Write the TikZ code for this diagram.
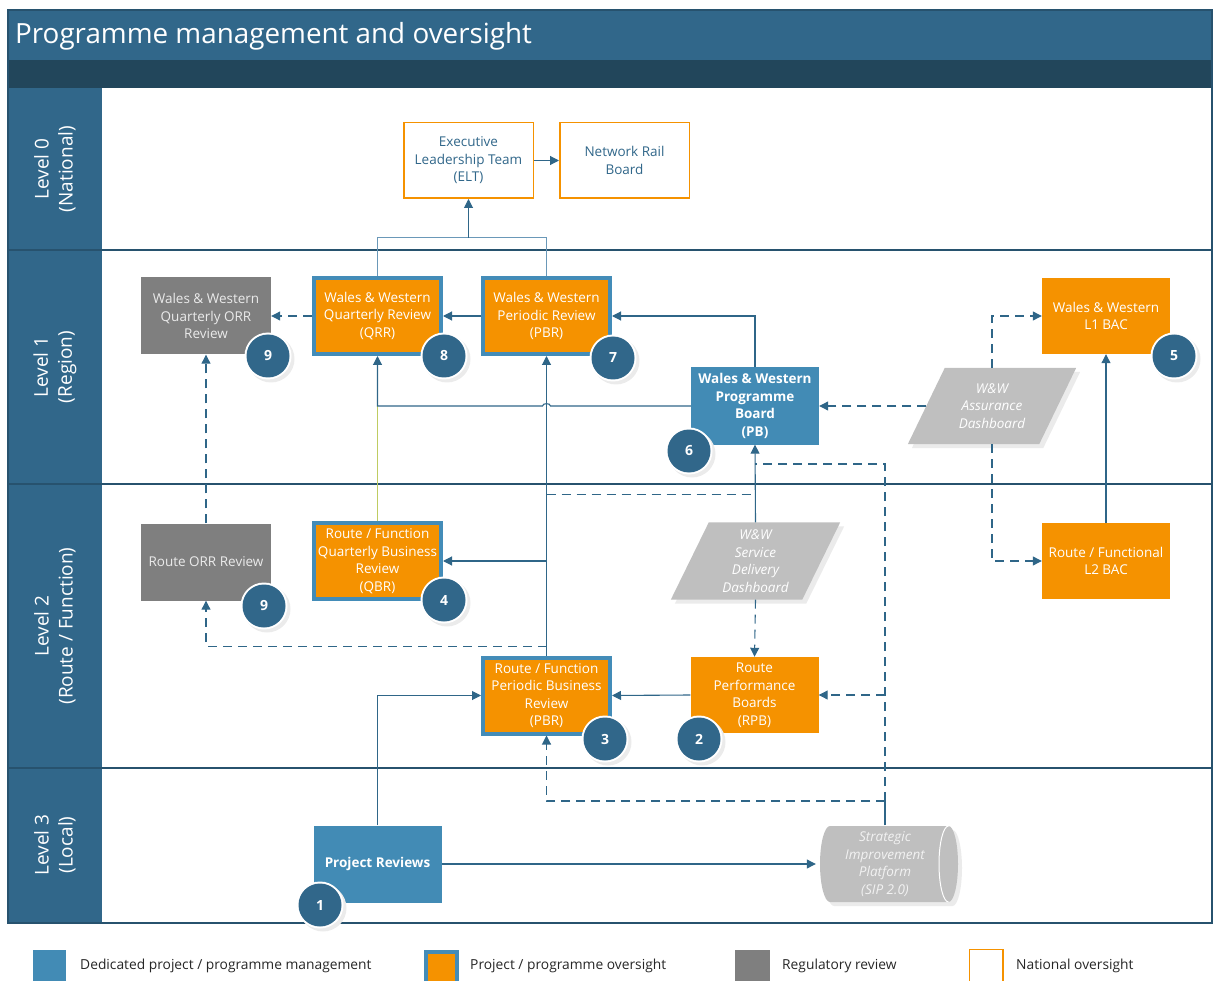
\documentclass[tikz,border=0pt]{standalone}
\usepackage{fontspec}
\setmainfont{Open Sans}
\usetikzlibrary{arrows.meta,calc}
\pgfdeclarelayer{background}
\pgfsetlayers{background,main}

\definecolor{hdr}{HTML}{31678A}
\definecolor{band}{HTML}{22465B}
\definecolor{ln}{HTML}{2F6688}
\definecolor{lnl}{HTML}{6A98B8}
\definecolor{org}{HTML}{F59200}
\definecolor{bord}{HTML}{438CB8}
\definecolor{pmb}{HTML}{428BB5}
\definecolor{reg}{HTML}{7F7F7F}
\definecolor{regtxt}{HTML}{EAEAEA}
\definecolor{dbg}{HTML}{BFBFBF}
\definecolor{qline}{HTML}{BFCC62}
\definecolor{shd}{HTML}{EBEBEB}

\tikzset{
  txt/.style={font=\fontsize{13.5}{17.5}\selectfont, align=center, inner sep=0pt},
  natbox/.style={txt, draw=org, line width=1.5pt, fill=white, text=hdr,
    minimum width=129.5pt, minimum height=75.5pt},
  ovbox/.style={txt, draw=bord, line width=4pt, fill=org, text=white,
    minimum width=127pt, minimum height=76pt},
  orgbox/.style={txt, fill=org, text=white, minimum width=128pt, minimum height=76pt},
  regbox/.style={txt, fill=reg, text=regtxt, minimum width=130pt, minimum height=77pt},
  pmbox/.style={txt, fill=pmb, text=white, font=\fontsize{13.5}{17.5}\selectfont\bfseries,
    minimum width=128pt, minimum height=77pt},
  dbtxt/.style={txt, text=white, font=\fontsize{13.5}{17.5}\selectfont\itshape},
  conn/.style={draw=ln, line width=1.1pt},
  thinconn/.style={draw=lnl, line width=1pt},
  arr/.style={conn, -{Triangle[length=9pt,width=9pt]}},
  dline/.style={conn, dash pattern=on 9pt off 6pt},
  darr/.style={arr, dash pattern=on 9pt off 6pt},
  lanelbl/.style={rotate=90, text=white, align=center, inner sep=0pt,
    font=\fontsize{19}{24}\selectfont},
  badgenode/.style={circle, fill=hdr, minimum size=43pt, inner sep=0pt, text=white,
    font=\fontsize{14}{14}\selectfont\bfseries},
  legtxt/.style={anchor=west, inner sep=0pt, font=\fontsize{13.8}{16}\selectfont, text=black!85},
}

% numbered badge: name, position, number
\newcommand\numbadge[3]{%
  \fill[shd] ($(#2)+(3,3)$) circle[radius=23.5pt];
  \fill[white] (#2) circle[radius=23.5pt];
  \node[badgenode] (#1) at (#2) {#3};
}

\begin{document}
\begin{tikzpicture}[x=1pt,y=-1pt]
\useasboundingbox (0,0) rectangle (1218,981);

% title, band and lane headers
\fill[hdr] (8,10) rectangle (1212,60);
\fill[band] (8,60) rectangle (1212,88);
\fill[hdr] (8,88) rectangle (102,923);
\draw[hdr!80!black, line width=1.5pt] (8,10) rectangle (1212,923);
\foreach \y in {250,484,768} \draw[hdr!80!black, line width=1.5pt] (8,\y) -- (1212,\y);
\node[anchor=west, text=white, inner sep=0pt, font=\fontsize{27.8}{30}\selectfont] (title) at (15,36) {Programme management and oversight};

\node[lanelbl] (lv0) at (55,169) {Level 0\\(National)};
\node[lanelbl] (lv1) at (55,367) {Level 1\\(Region)};
\node[lanelbl] (lv2) at (55,626) {Level 2\\(Route / Function)};
\node[lanelbl] (lv3) at (55,845) {Level 3\\(Local)};

% Level 0
\node[natbox] (elt) at (468.5,160.5) {Executive\\Leadership Team\\(ELT)};
\node[natbox] (nrb) at (624.5,160.5) {Network Rail\\Board};

% Level 1
\node[regbox] (qorr) at (206,316) {Wales \& Western\\Quarterly ORR\\Review};
\node[ovbox] (qrr) at (377.5,316) {Wales \& Western\\Quarterly Review\\(QRR)};
\node[ovbox] (wpbr) at (546.5,316) {Wales \& Western\\Periodic Review\\(PBR)};
\node[pmbox] (pb) at (755,406) {Wales \& Western\\Programme\\Board\\(PB)};
\node[dbtxt, minimum width=168pt, minimum height=76pt] (assur) at (992,406) {W\&W\\Assurance\\Dashboard};
\node[orgbox] (l1bac) at (1106,316) {Wales \& Western\\L1 BAC};

% Level 2
\node[regbox] (rorr) at (206,562) {Route ORR Review};
\node[ovbox] (qbr) at (377.5,561) {Route / Function\\Quarterly Business\\Review\\(QBR)};
\node[dbtxt, minimum width=169pt, minimum height=77pt] (sdd) at (755.5,561) {W\&W\\Service\\Delivery\\Dashboard};
\node[orgbox] (l2bac) at (1106,561) {Route / Functional\\L2 BAC};
\node[ovbox] (rfpbr) at (546.5,695.5) {Route / Function\\Periodic Business\\Review\\(PBR)};
\node[orgbox] (rpb) at (754.5,695) {Route\\Performance\\Boards\\(RPB)};

% Level 3
\node[pmbox] (pr) at (377.5,864) {Project Reviews};
\node[dbtxt, minimum width=138pt, minimum height=77pt, text=white!95!black] (sip) at (885,864) {Strategic\\Improvement\\Platform\\(SIP 2.0)};

% dashboard and platform shapes
\begin{pgfonlayer}{background}
  \foreach \n/\s in {assur/37,sdd/38}{
    \fill[shd] ($(\n.north west)+(\s+4,4)$) -- ($(\n.north east)+(4,4)$)
      -- ($(\n.south east)+(-\s+4,4)$) -- ($(\n.south west)+(4,4)$) -- cycle;
    \fill[dbg] ($(\n.north west)+(\s,0)$) -- (\n.north east)
      -- ($(\n.south east)+(-\s,0)$) -- (\n.south west) -- cycle;
  }
  \fill[shd] (834,830) arc[start angle=90, end angle=270, x radius=10pt, y radius=38pt]
    -- (952.5,906) arc[start angle=-90, end angle=90, x radius=9.5pt, y radius=38pt] -- cycle;
  \fill[dbg] (830,826) arc[start angle=90, end angle=270, x radius=10pt, y radius=38pt]
    -- (948.5,902) arc[start angle=-90, end angle=90, x radius=9.5pt, y radius=38pt] -- cycle;
  \draw[white, line width=1pt] (948.5,826) arc[start angle=90, end angle=270, x radius=9.5pt, y radius=38pt];
\end{pgfonlayer}

% connectors
\draw[arr] (elt.east) -- (nrb.west);
\coordinate (jq) at (qrr.north |- 0,238);
\coordinate (jp) at (wpbr.north |- 0,238);
\coordinate (je) at (elt.south |- 0,238);
\draw[thinconn] (qrr.north) -- (jq) -- (jp) -- (wpbr.north);
\draw[thinconn, -{Triangle[length=9pt,width=9pt]}, draw=ln] (je) -- (elt.south);

\draw[darr] (qrr.west) -- (qorr.east);
\draw[arr] (wpbr.west) -- (qrr.east);
\draw[arr] (pb.north) |- (wpbr.east);
\draw[conn, draw=qline] (qbr.north) -- (qbr.north |- pb.west);
\draw[arr] (pb.west) -- (550.5,406) to[out=90,in=90] (542.5,406) -- (qrr.south |- pb.west) -- (qrr.south);
\draw[darr] (rorr.north) -- (qorr.south);

\draw[arr] (rfpbr.north) -- (wpbr.south);
\draw[arr] (rfpbr.north |- qbr.east) -- (qbr.east);
\coordinate (jo) at (rfpbr.north |- 0,646.5);
\draw[darr] (jo) -| (rorr.south);
\draw[dline] (rfpbr.north |- 0,494.5) -- (pb.south |- 0,494.5);

\draw[arr] (sdd.north) -- (pb.south);
\draw[darr] (sdd.south) -- (rpb.north);
\draw[arr] (rpb.west) -- (rfpbr.east);
\draw[thinconn, -{Triangle[length=9pt,width=9pt]}, draw=ln] (pr.north) |- (rfpbr.west);

\coordinate (js) at (sip.north |- 0,801);
\draw[conn] (sip.north) -- (js);
\draw[dline] (js) -- (sip.north |- 0,464) -- (pb.south |- 0,464);
\draw[darr] (js) -| (rfpbr.south);
\draw[darr] (sip.north |- rpb.east) -- (rpb.east);
\draw[arr] (pr.east) -- (sip.west |- pr.east);

\draw[darr] ($(assur.west)+(18.5,0)$) -- (pb.east);
\draw[darr] (assur.north) |- (l1bac.west);
\draw[darr] (assur.south) |- (l2bac.west);
\draw[arr] (l2bac.north) -- (l1bac.south);

% numbered badges
\numbadge{b9a}{268,356}{9}
\numbadge{b8}{444,356}{8}
\numbadge{b7}{613,358}{7}
\numbadge{b6}{689,451}{6}
\numbadge{b5}{1174,356}{5}
\numbadge{b9b}{264,606}{9}
\numbadge{b4}{444,600}{4}
\numbadge{b3}{605,739}{3}
\numbadge{b2}{699,739}{2}
\numbadge{b1}{320,905}{1}

% legend
\fill[pmb] (33,950) rectangle (66,985);
\node[legtxt] (lt1) at (80,966) {Dedicated project / programme management};
\node[fill=org, draw=bord, line width=4pt, minimum width=31pt, minimum height=40pt, inner sep=0pt, anchor=north west] (lg2) at (424,950) {};
\node[legtxt] (lt2) at (470,966) {Project / programme oversight};
\fill[reg] (735,950) rectangle (770,985);
\node[legtxt] (lt3) at (782,966) {Regulatory review};
\node[fill=white, draw=org, line width=1.5pt, minimum width=33.5pt, minimum height=40pt, inner sep=0pt, anchor=north west] (lg4) at (968.75,948.75) {};
\node[legtxt] (lt4) at (1016,966) {National oversight};
\end{tikzpicture}
\end{document}
